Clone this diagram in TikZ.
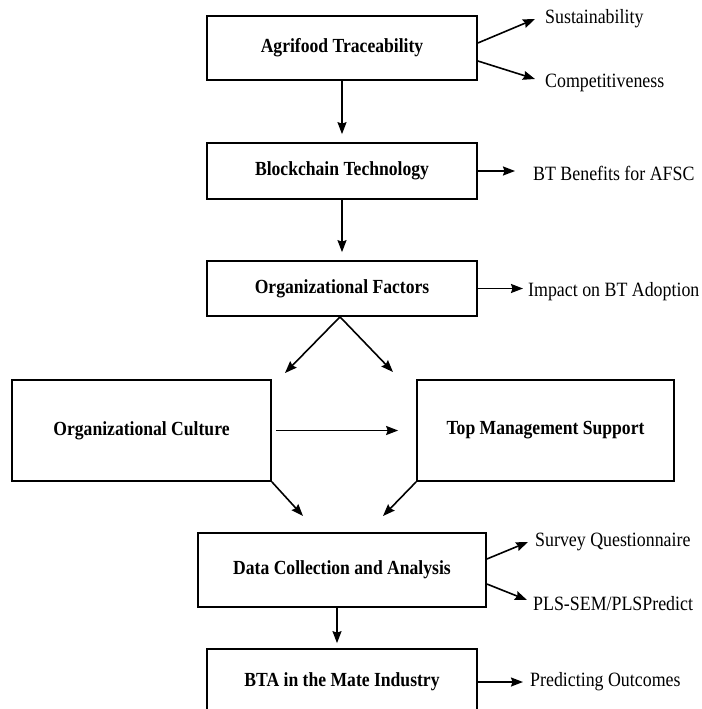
\documentclass[tikz,border=0pt]{standalone}
\usepackage{fontspec}
\setmainfont{Liberation Serif}[FakeStretch=0.88]
\usetikzlibrary{arrows.meta}
\begin{document}
\begin{tikzpicture}[x=1pt,y=-1pt,
  box/.style={draw, line width=1.7pt, inner sep=0pt,
    font=\fontsize{20}{24}\selectfont\bfseries},
  lbl/.style={anchor=west, inner sep=0pt, font=\fontsize{20.3}{24}\selectfont},
  arr/.style={line width=1.6pt, -{Stealth[length=12pt,width=9pt,inset=1.5pt]}}]
\useasboundingbox (0,0) rectangle (701,709);
\fill[white] (0,0) rectangle (701,709);
\clip (0,0) rectangle (701,709);

% main boxes
\node[box, minimum width=270pt, minimum height=64pt] (at)  at (342,48)    {Agrifood Traceability};
\node[box, minimum width=270pt, minimum height=56pt] (bt)  at (342,171)   {Blockchain Technology};
\node[box, minimum width=270pt, minimum height=55pt] (of)  at (342,288.5) {Organizational Factors};
\node[box, minimum width=259pt, minimum height=101pt] (oc) at (141.5,430.5) {Organizational Culture};
\node[box, minimum width=257pt, minimum height=101pt] (tms) at (545.5,430.5) {Top Management Support};
\node[box, minimum width=288pt, minimum height=74pt] (dca) at (342,570)   {Data Collection and Analysis};
\node[box, minimum width=270pt, minimum height=66pt] (bta) at (342,682)   {BTA in the Mate Industry};

% side labels
\node[lbl] (sus)  at (545,19)  {Sustainability};
\node[lbl] (comp) at (545,83)  {Competitiveness};
\node[lbl] (btb)  at (533,173) {BT Benefits for AFSC};
\node[lbl] (imp)  at (528,292) {Impact on BT Adoption};
\node[lbl] (svy)  at (535,542) {Survey Questionnaire};
\node[lbl] (pls)  at (533,604) {PLS-SEM/PLSPredict};
\node[lbl] (pred) at (530,682) {Predicting Outcomes};

% free ends of the split arrows
\coordinate (vl) at (285,373);
\coordinate (vr) at (393,372);
\coordinate (ml) at (303,516);
\coordinate (mr) at (383,516);

% main flow
\draw[arr, shorten >=8pt] (at.south) -- (bt.north);
\draw[arr, shorten >=8pt] (bt.south) -- (of.north);
\draw[arr] ([xshift=-2pt]of.south) -- (vl);
\draw[arr] ([xshift=-2pt]of.south) -- (vr);
\draw[arr, shorten <=4pt, shorten >=18pt] (oc.east) -- (tms.west);
\draw[arr] (oc.south east) -- (ml);
\draw[arr] (tms.south west) -- (mr);
\draw[arr, shorten >=5pt] ([xshift=-5pt]dca.south) -- ([xshift=-5pt]bta.north);

% outcome arrows
\draw[arr] ([yshift=5pt]at.east) -- ([xshift=-10pt]sus.west);
\draw[arr] ([yshift=-13pt]at.east) -- ([xshift=-10pt,yshift=4pt]comp.west);
\draw[arr, shorten >=18pt] (bt.east) -- (bt.east -| btb.west);
\draw[arr, shorten >=5pt] (of.east) -- (of.east -| imp.west);
\draw[arr] ([yshift=11pt]dca.east) -- ([xshift=-7pt]svy.west);
\draw[arr] ([yshift=-14pt]dca.east) -- ([xshift=-6pt,yshift=4pt]pls.west);
\draw[arr, shorten >=7pt] (bta.east) -- (bta.east -| pred.west);
\end{tikzpicture}
\end{document}
